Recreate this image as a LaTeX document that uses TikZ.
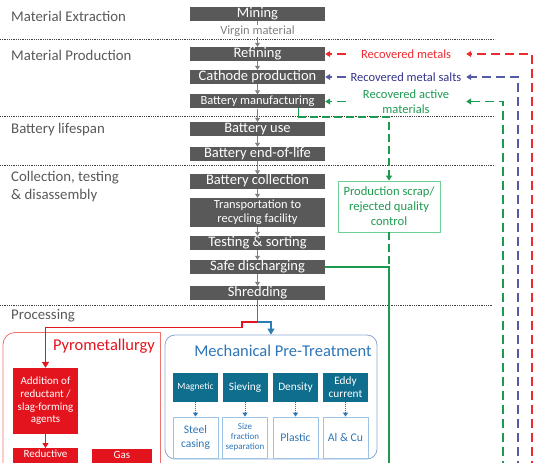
\documentclass[tikz,border=0pt]{standalone}
\usepackage{fontspec}
\setmainfont{Carlito}
\usetikzlibrary{arrows.meta,calc}
\definecolor{boxgray}{HTML}{595959}
\definecolor{labgray}{HTML}{595959}
\definecolor{arrgray}{HTML}{808080}
\definecolor{recred}{HTML}{EE2A30}
\definecolor{recblue}{HTML}{33338C}
\definecolor{vblue}{HTML}{555AA6}
\definecolor{recgreen}{HTML}{1E9A50}
\definecolor{scrapborder}{HTML}{6CCF94}
\definecolor{pyrored}{HTML}{E3141E}
\definecolor{pyroborder}{HTML}{F07070}
\definecolor{mechborder}{HTML}{8FA6D0}
\definecolor{mechtitle}{HTML}{2E75B6}
\definecolor{tealbox}{HTML}{0F6E8E}
\definecolor{wbborder}{HTML}{9DC3E6}
\definecolor{wbtext}{HTML}{2E75B6}
\definecolor{shredblue}{HTML}{2A7DB5}
\newcommand{\fs}[2]{\fontsize{#1}{#2}\selectfont}
\begin{document}
\begin{tikzpicture}[x=1pt,y=-1pt,
  gbox/.style={fill=boxgray,text=white,minimum width=135,minimum height=14,inner sep=0pt,text height=9.5pt,text depth=2.5pt,font=\fs{14.5}{14}},
  garrow/.style={draw=arrgray,line width=0.8pt,-{Triangle[width=5pt,length=4pt]}},
  sidelab/.style={anchor=west,text=labgray,inner sep=0pt,font=\fs{14.8}{18},align=left},
  seplin/.style={draw=black!75,line width=0.7pt,dash pattern=on 0.8pt off 1pt},
  reclab/.style={minimum width=120,inner sep=0pt,font=\fs{12.5}{15},align=center},
  recarrow/.style={line width=1.4pt,dash pattern=on 9pt off 5pt,-{Triangle[width=6pt,length=5pt]}},
  reddash/.style={recarrow,draw=recred},
  bluedash/.style={recarrow,draw=vblue},
  greendash/.style={recarrow,draw=recgreen},
  pyrobox/.style={fill=pyrored,text=white,inner sep=0pt,align=center,font=\fs{11}{12.7}},
  tealnode/.style={fill=tealbox,text=white,minimum width=45,minimum height=29,inner sep=0pt,align=center,font=\fs{11.3}{13}},
  wbox/.style={draw=wbborder,line width=0.8pt,text=wbtext,minimum width=45,minimum height=41,inner sep=0pt,align=center,font=\fs{11.5}{14}},
  tarrow/.style={draw=wbtext,line width=0.9pt,dash pattern=on 1pt off 1pt,-{Triangle[width=5pt,length=4pt,fill=wbtext]}}
]
\useasboundingbox (0,0) rectangle (534,462);
\clip (0,0) rectangle (534,462);

% separators
\draw[seplin] (0,39) -- (495,39);
\draw[seplin] (0,116) -- (495,116);
\draw[seplin] (0,165) -- (495,165);
\draw[seplin] (0,305) -- (493,305);

% side labels
\node[sidelab] (l1) at (11,16) {Material Extraction};
\node[sidelab] (l2) at (11,55) {Material Production};
\node[sidelab] (l3) at (11,130) {Battery lifespan};
\node[sidelab] (l4) at (11,187) {Collection, testing\\\& disassembly};
\node[sidelab] (l5) at (11,316) {Processing};

% main chain
\node[gbox] (mine) at (257.5,14) {Mining};
\node[text=arrgray,inner sep=0.5pt,font=\fs{12.5}{13}] (virgin) at (257.5,31) {Virgin material};
\node[gbox] (refine) at (257.5,54) {Refining};
\node[gbox] (cath) at (257.5,77) {Cathode production};
\node[gbox,font=\fs{12.5}{13},text height=8.5pt] (bm) at (257.5,101.5) {Battery manufacturing};
\node[gbox] (buse) at (257.5,129) {Battery use};
\node[gbox] (beol) at (257.5,154) {Battery end-of-life};
\node[gbox] (bcol) at (257.5,181.5) {Battery collection};
\node[gbox,minimum height=29,text height=,text depth=,align=center,font=\fs{12.4}{14}] (trans) at (257.5,212.5) {Transportation to\\recycling facility};
\node[gbox] (test) at (257.5,243) {Testing \& sorting};
\node[gbox] (sd) at (257.5,267) {Safe discharging};
\node[gbox] (shred) at (257.5,293) {Shredding};

\draw[draw=arrgray,line width=0.8pt] (mine.south) -- (virgin.north);
\draw[garrow] (virgin.south) -- (refine.north);
\draw[garrow] (refine.south) -- (cath.north);
\draw[garrow] (cath.south) -- (bm.north);
\draw[garrow] (bm.south) -- (buse.north);
\draw[garrow] (buse.south) -- (beol.north);
\draw[garrow] (beol.south) -- (bcol.north);
\draw[garrow] (bcol.south) -- (trans.north);
\draw[garrow] (trans.south) -- (test.north);
\draw[garrow] (test.south) -- (sd.north);
\draw[garrow] (sd.south) -- (shred.north);

% recovered flows
\node[reclab,text=recred] (rm) at (406,54) {Recovered metals};
\node[reclab,text=recblue] (rms) at (406,77) {Recovered metal salts};
\node[reclab,text=recgreen] (ram) at (406,101.5) {Recovered active\\materials};
\coordinate (rtop) at (532,54);
\coordinate (btop) at (518,77);
\coordinate (gtop) at (503,101.5);
\draw[reddash] (rm.west) -- (refine.east);
\draw[bluedash] (rms.west) -- (cath.east);
\draw[greendash] (ram.west) -- (bm.east);
\draw[reddash] (532,470) -- (rtop) -- (rm.east);
\draw[bluedash] (518,470) -- (btop) -- (rms.east);
\draw[greendash] (503,470) -- (gtop) -- (ram.east);

% production scrap
\node[draw=scrapborder,line width=0.8pt,text=recgreen,minimum width=102,minimum height=51,inner sep=0pt,align=center,font=\fs{12.6}{15}] (scrap) at (389,206.5) {Production scrap/\\rejected quality\\control};
\coordinate (g1) at (298,108.5);
\coordinate (g2) at (298,117);
\coordinate (gj) at (389,267);
\draw[recgreen,line width=0.8pt] (g1) -- (g2);
\draw[greendash,line width=1.2pt,dash pattern=on 8pt off 4pt] (g2) -| (scrap.north);
\draw[recgreen,line width=1.2pt,dash pattern=on 8pt off 4pt] (scrap.south) -- (gj);
\draw[recgreen,line width=1.3pt] (sd.east) -- (gj) -- (389,470);

% pyrometallurgy
\draw[pyroborder,line width=0.8pt] (160,480) -- (160,332.5) -- (15,332.5);
\draw[pyroborder,line width=0.8pt,rounded corners=12pt] (15,332.5) -- (3,332.5) -- (3,480);
\node[text=pyrored,inner sep=0pt,font=\fs{16.5}{18}] (pyro) at (104,346) {Pyrometallurgy};
\node[pyrobox,minimum width=65,minimum height=66] (addn) at (45.5,401) {Addition of\\reductant /\\slag-forming\\agents};
\node[pyrobox,minimum width=65,minimum height=24,anchor=north,font=\fs{11}{13}] (red) at (45.5,448) {Reductive\\~};
\node[pyrobox,minimum width=60,minimum height=24,anchor=north,font=\fs{11}{13}] (gas) at (122,449) {Gas\\~};
\draw[pyrored,line width=1pt,-{Triangle[width=6pt,length=5pt]}] (addn.south) -- (red.north);

% mechanical pre-treatment
\node[draw=mechborder,line width=0.8pt,rounded corners=10pt,minimum width=212,minimum height=124,inner sep=0pt] (mech) at (271,397) {};
\node[text=mechtitle,inner sep=0pt,font=\fs{16.5}{18}] (mtitle) at (283,351) {Mechanical Pre-Treatment};
\node[tealnode,font=\fs{9.5}{12}] (mag) at (195.5,387.5) {Magnetic};
\node[tealnode] (siev) at (245,387.5) {Sieving};
\node[tealnode] (dens) at (295.5,387.5) {Density};
\node[tealnode] (eddy) at (345.5,387.5) {Eddy\\current};
\node[wbox] (steel) at (195.5,437.5) {Steel\\casing};
\node[wbox,font=\fs{9}{10}] (size) at (245,437.5) {Size\\fraction\\separation};
\node[wbox,font=\fs{11.7}{13}] (plast) at (295.5,437.5) {Plastic};
\node[wbox,font=\fs{11.7}{13}] (alcu) at (345.5,437.5) {Al \& Cu};
\draw[tarrow] (mag.south) -- (steel.north);
\draw[tarrow] (siev.south) -- (size.north);
\draw[tarrow] (dens.south) -- (plast.north);
\draw[tarrow] (eddy.south) -- (alcu.north);

% shredding outputs
\coordinate (sj) at (257.5,322);
\draw[shredblue,line width=1.3pt,-{Triangle[width=7pt,length=6pt]}] (shred.south) -- (sj) -| (mech.north);
\draw[pyrored,line width=1.3pt,-{Triangle[width=7pt,length=6pt]}] (sj) -- (242,322) -- (242,327.5) -| (addn.north);
\end{tikzpicture}
\end{document}
